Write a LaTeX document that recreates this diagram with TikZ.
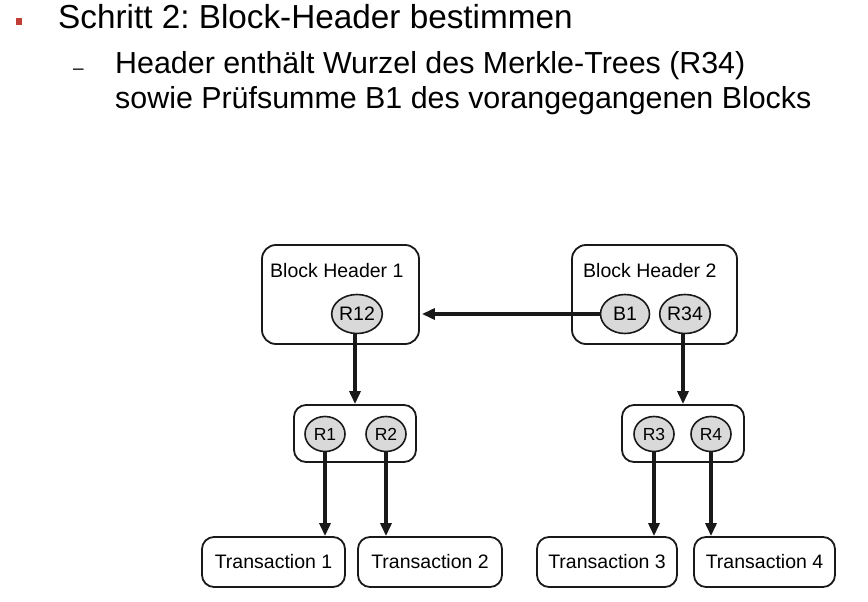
\documentclass[tikz,border=0pt]{standalone}
\usepackage{fontspec}
\setmainfont{Liberation Sans}
\usetikzlibrary{shapes.geometric,arrows.meta}
\definecolor{bulletred}{RGB}{192,62,52}
\definecolor{linegray}{RGB}{25,25,25}
\definecolor{nodefill}{RGB}{217,217,217}
\frenchspacing
\tikzset{
  bigbox/.style={draw=linegray, line width=1.8pt, rounded corners=14pt, inner sep=0pt},
  midbox/.style={draw=linegray, line width=1.8pt, rounded corners=12pt, inner sep=0pt, minimum width=122pt, minimum height=57pt},
  txbox/.style={draw=linegray, line width=1.8pt, rounded corners=12pt, inner sep=0pt, minimum height=50pt, font=\fontsize{19.5}{22}\selectfont},
  hashbig/.style={ellipse, draw=linegray, line width=1.6pt, fill=nodefill, inner sep=0pt, minimum width=49pt, minimum height=39pt, font=\fontsize{19.5}{22}\selectfont},
  hashsmall/.style={ellipse, draw=linegray, line width=1.6pt, fill=nodefill, inner sep=0pt, minimum width=40pt, minimum height=35pt, font=\fontsize{17.5}{20}\selectfont},
  link/.style={draw=linegray, line width=3.2pt, -{Triangle[length=13pt,width=11pt]}},
  lbl/.style={inner sep=0pt, anchor=base west},
}
\begin{document}
\begin{tikzpicture}[x=1pt,y=-1pt]
\useasboundingbox[fill=white] (0,0) rectangle (868,602);
% bullet text
\fill[bulletred] (16,18) rectangle (22,25);
\node[lbl, font=\fontsize{33.3}{40}\selectfont] (l1) at (58,29) {Schritt 2: Block-Header bestimmen};
\node[lbl, font=\fontsize{19}{20}\selectfont] (dash) at (73,75) {–};
\node[lbl, font=\fontsize{30.4}{36}\selectfont] (l2) at (115,74) {Header enthält Wurzel des Merkle-Trees (R34)};
\node[lbl, font=\fontsize{30.4}{36}\selectfont] (l3) at (115,109) {sowie Prüfsumme B1 des vorangegangenen Blocks};
% block headers
\node[bigbox, minimum width=157pt, minimum height=99pt] (bh1) at (340.5,294.5) {};
\node[bigbox, minimum width=165pt, minimum height=99pt] (bh2) at (654.5,294.5) {};
\node[lbl, font=\fontsize{19.5}{22}\selectfont] (bh1t) at (270,277) {Block Header 1};
\node[lbl, font=\fontsize{19.5}{22}\selectfont] (bh2t) at (583,277) {Block Header 2};
\node[hashbig] (r12) at (357,314) {R12};
\node[hashbig] (b1) at (625,314) {B1};
\node[hashbig] (r34) at (685,314) {R34};
% middle level
\node[midbox] (m1) at (355,433.5) {};
\node[midbox] (m2) at (683,433.5) {};
\node[hashsmall] (r1) at (325,434) {R1};
\node[hashsmall] (r2) at (386,434) {R2};
\node[hashsmall] (r3) at (654,434) {R3};
\node[hashsmall] (r4) at (711,434) {R4};
% transactions
\node[txbox, minimum width=143pt] (t1) at (273.5,562) {Transaction 1};
\node[txbox, minimum width=144pt] (t2) at (430,562) {Transaction 2};
\node[txbox, minimum width=140pt] (t3) at (607,562) {Transaction 3};
\node[txbox, minimum width=141pt] (t4) at (764.5,562) {Transaction 4};
% connectors
\draw[link] (b1.west) -- ([xshift=2pt]bh1.east |- b1.west);
\draw[link] ([xshift=-2pt]r12.south) -- ([xshift=-2pt]r12.south |- m1.north);
\draw[link] ([xshift=-2pt]r34.south) -- ([xshift=-2pt]r34.south |- m2.north);
\draw[link] (r1.south) -- (r1.south |- t1.north);
\draw[link] (r2.south) -- (r2.south |- t2.north);
\draw[link] (r3.south) -- (r3.south |- t3.north);
\draw[link] (r4.south) -- (r4.south |- t4.north);
\end{tikzpicture}
\end{document}
